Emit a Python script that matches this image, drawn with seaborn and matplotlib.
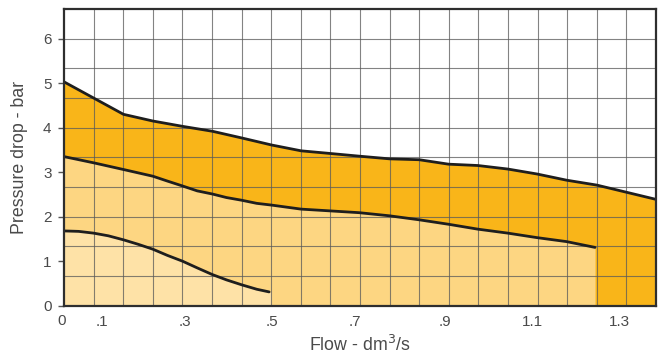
import numpy as np
import pandas as pd
import matplotlib
matplotlib.use("Agg")
import matplotlib.pyplot as plt
import seaborn as sns

# ---- data (flow in dm3/s, pressure drop in bar) ----
top_x = [0.0, 0.134, 0.2, 0.267, 0.334, 0.4, 0.468, 0.534, 0.6, 0.665,
         0.733, 0.8, 0.866, 0.932, 1.0, 1.065, 1.132, 1.2, 1.333]
top_y = [5.03, 4.30, 4.15, 4.03, 3.92, 3.77, 3.61, 3.48, 3.42, 3.36,
         3.30, 3.28, 3.18, 3.15, 3.07, 2.96, 2.82, 2.71, 2.39]

mid_x = [0.0, 0.067, 0.134, 0.2, 0.233, 0.267, 0.3, 0.334, 0.366, 0.4, 0.434,
         0.468, 0.534, 0.6, 0.665, 0.733, 0.8, 0.866, 0.932, 1.0, 1.065,
         1.132, 1.196]
mid_y = [3.35, 3.21, 3.06, 2.91, 2.80, 2.69, 2.58, 2.51, 2.43, 2.37, 2.30,
         2.26, 2.17, 2.13, 2.09, 2.02, 1.93, 1.83, 1.72, 1.63, 1.53,
         1.44, 1.31]

low_x = [0.0, 0.033, 0.067, 0.1, 0.134, 0.167, 0.2, 0.233, 0.267, 0.3,
         0.334, 0.366, 0.4, 0.434, 0.462]
low_y = [1.68, 1.67, 1.63, 1.57, 1.48, 1.38, 1.27, 1.13, 1.00, 0.85,
         0.70, 0.58, 0.47, 0.37, 0.31]

x_tick_labels = [".1", ".3", ".5", ".7", ".9", "1.1", "1.3"]
x_tick_pos = [0.086, 0.2725, 0.468, 0.655, 0.858, 1.056, 1.252]
y_ticks = [0, 1, 2, 3, 4, 5, 6]

# ---- style ----
sns.set_style("white")
plt.rcParams['font.family'] = ['Liberation Sans', 'DejaVu Sans']

dark = "#F9B519"
medium = "#FDD682"
light = "#FEE2A7"
txt = "#4a4a4a"

fig = plt.figure(figsize=(6.61, 3.54), dpi=100)
ax = fig.add_axes([64/661, 1-305.7/354, 592/661, (305.7-9)/354])

XMAX = 4/3
YMAX = 20/3
ax.set_xlim(0, XMAX)
ax.set_ylim(0, YMAX)

tx = np.array(top_x); ty = np.array(top_y)
mx = np.array(mid_x); my = np.array(mid_y)
lx = np.array(low_x); ly = np.array(low_y)

# dark region under the top curve
ax.fill_between(tx, 0, ty, color=dark, lw=0, zorder=1)
# medium region under the middle curve
ax.fill_between(mx, 0, my, color=medium, lw=0, zorder=2)
# light region under the lower curve
ax.fill_between(np.append(lx, 0.467), 0, np.append(ly, ly[-1]), color=light, lw=0, zorder=3)

# grid
for gx in np.arange(1, 20) / 15:
    ax.axvline(gx, color="#5a5a5a", lw=0.8, alpha=0.75, zorder=4)
for gy in np.arange(1, 10) * 2 / 3:
    ax.axhline(gy, color="#5a5a5a", lw=0.8, alpha=0.75, zorder=4)

# curves
for xs, ys in [(top_x, top_y), (mid_x, mid_y), (low_x, low_y)]:
    df = pd.DataFrame({"x": xs, "y": ys})
    sns.lineplot(data=df, x="x", y="y", ax=ax, color="#1e1e1e", lw=2.0,
                 sort=False, zorder=5)

for s in ax.spines.values():
    s.set_color("#2e2e2e")
    s.set_linewidth(1.6)
    s.set_zorder(6)

ax.set_xticks(x_tick_pos)
ax.set_xticklabels(x_tick_labels)
ax.set_yticks(y_ticks)
ax.tick_params(axis="x", length=0, pad=7, labelsize=11, labelcolor=txt)
ax.tick_params(axis="y", length=4, width=1, color="#555555", direction="out",
               pad=5, labelsize=11, labelcolor=txt, left=True)
# the "0" at the origin sits below the corner, as in the reference
ax.text(-0.004, -0.028, "0", transform=ax.transAxes, ha="center", va="top",
        fontsize=11, color=txt)

ax.set_xlabel("Flow - dm$^3$/s", fontsize=12.8, color=txt, labelpad=4)
ax.set_ylabel("Pressure drop - bar", fontsize=12.8, color=txt, labelpad=11)

fig.savefig("out.png", dpi=100)
